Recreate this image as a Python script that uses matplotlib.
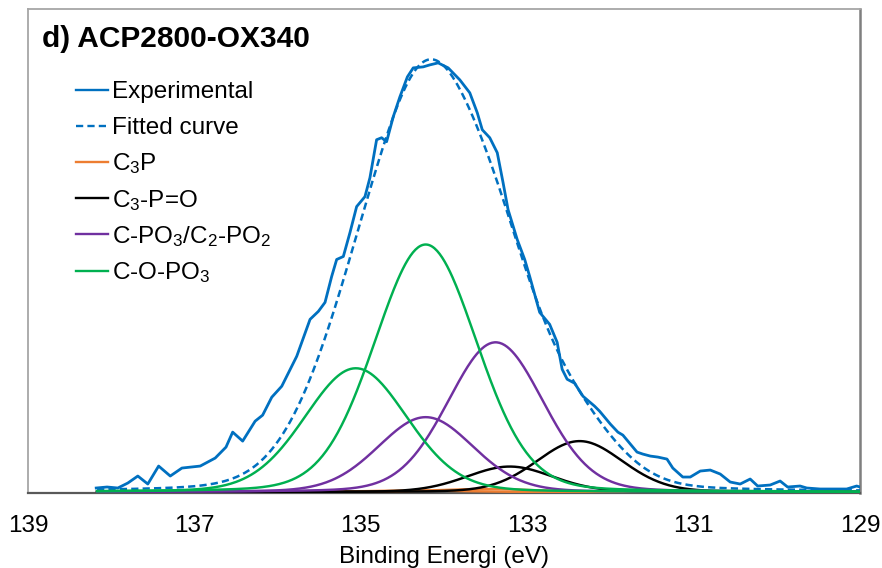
import numpy as np
import matplotlib
matplotlib.use("Agg")
import matplotlib.pyplot as plt
from matplotlib.lines import Line2D

plt.rcParams["font.family"] = ["Liberation Sans", "DejaVu Sans"]
plt.rcParams["mathtext.fontset"] = "custom"
plt.rcParams["mathtext.rm"] = "Liberation Sans"
plt.rcParams["mathtext.it"] = "Liberation Sans:italic"
plt.rcParams["mathtext.default"] = "regular"
plt.rcParams["lines.scale_dashes"] = False

# ---- P 2p spectrum, measured (binding energy in eV, intensity in a.u.) ----
exp_be = [138.18, 138.05, 137.92, 137.80, 137.68, 137.56, 137.43, 137.29, 137.15,
          136.93, 136.75, 136.62, 136.54, 136.42, 136.27, 136.18, 136.07, 135.95,
          135.77, 135.61, 135.51, 135.43, 135.35, 135.29, 135.21, 135.13, 135.05,
          134.95, 134.89, 134.81, 134.75, 134.69, 134.61, 134.53, 134.44, 134.37,
          134.25, 134.17, 134.07, 133.95, 133.81, 133.69, 133.60, 133.54, 133.45,
          133.36, 133.29, 133.23, 133.12, 133.03, 132.97, 132.85, 132.73, 132.64,
          132.58, 132.52, 132.43, 132.33, 132.19, 132.13, 132.00, 131.91, 131.85,
          131.68, 131.61, 131.52, 131.43, 131.32, 131.25, 131.13, 131.04, 130.92,
          130.80, 130.68, 130.56, 130.44, 130.32, 130.23, 130.08, 129.96, 129.87,
          129.72, 129.64, 129.48, 129.32, 129.16, 129.04, 129.00]
exp_int = [4, 5, 4, 9, 16, 8, 26, 16, 24,
           26, 34, 45, 60, 51, 71, 77, 95, 106,
           136, 173, 181, 190, 216, 233, 236, 260, 286,
           296, 315, 353, 355, 351, 376, 396, 416, 425,
           426, 428, 430, 425, 413, 400, 380, 363, 355,
           340, 310, 283, 253, 233, 216, 180, 168, 150,
           123, 113, 109, 96, 86, 81, 68, 60, 57,
           40, 38, 36, 35, 33, 24, 15, 15, 21,
           22, 18, 10, 8, 13, 6, 7, 11, 5,
           6, 4, 3, 3, 3, 6, 5]

# ---- fitted components: P 2p3/2 and P 2p1/2 peaks of each species (pseudo-Voigt) ----
comp_names = ["C$_3$P", "C$_3$-P=O", "C-PO$_3$/C$_2$-PO$_2$", "C-O-PO$_3$"]
comp_colors = ["#ED7D31", "#000000", "#7030A0", "#00B050"]
p32_center = [133.50, 132.37, 133.38, 134.22]
p12_center = [134.34, 133.21, 134.22, 135.06]
p32_height = [3.0, 51.0, 150.0, 248.0]
p12_height = [1.5, 25.5, 75.0, 124.0]
fwhm = [1.40, 1.22, 1.35, 1.45]
lorentz_frac = 0.12

be_min, be_max = 129.0, 138.17
xticks = [139, 137, 135, 133, 131, 129]

title = "d) ACP2800-OX340"
xlabel = "Binding Energi (eV)"

blue = "#0070C0"


def pseudo_voigt(x, c, h, w, m):
    g = np.exp(-4 * np.log(2) * (x - c) ** 2 / w ** 2)
    lo = 1.0 / (1.0 + 4 * (x - c) ** 2 / w ** 2)
    return h * ((1 - m) * g + m * lo)


W, H = 882, 568
fig = plt.figure(figsize=(W / 100, H / 100), dpi=100)
ax = fig.add_axes([28 / W, 1 - 493 / H, (860 - 28) / W, (493 - 9) / H])

be = np.linspace(be_max, be_min, 600)
peaks = []
for i in range(len(comp_names)):
    a = pseudo_voigt(be, p32_center[i], p32_height[i], fwhm[i], lorentz_frac)
    b = pseudo_voigt(be, p12_center[i], p12_height[i], fwhm[i], lorentz_frac)
    peaks.append((a, b))
fitted = np.sum([a + b for a, b in peaks], axis=0)

ax.plot(exp_be, exp_int, color=blue, lw=2.0, solid_joinstyle="round", zorder=3)
ax.plot(be, fitted, color=blue, lw=1.8, ls=(0, (5.2, 3.0)), zorder=3)
for i, (a, b) in enumerate(peaks):
    ax.plot(be, b, color=comp_colors[i], lw=1.75, zorder=4 + i)
    ax.plot(be, a, color=comp_colors[i], lw=1.75, zorder=4 + i)

ax.set_xlim(139, 129)
ax.set_ylim(-1, 484)
ax.set_yticks([])
ax.set_xticks(xticks)
ax.set_xticklabels([str(t) for t in xticks], fontsize=17.5)
ax.tick_params(axis="x", length=0, pad=15.5, colors="#000000")
ax.set_xlabel(xlabel, fontsize=17.5, labelpad=7)

for side in ["top", "left"]:
    ax.spines[side].set_color("#A6A6A6")
    ax.spines[side].set_linewidth(1.3)
ax.spines["right"].set_color("#7F7F7F")
ax.spines["right"].set_linewidth(1.8)
ax.spines["bottom"].set_color("#595959")
ax.spines["bottom"].set_linewidth(1.6)


def fx(px):
    return px / W


def fy(py):
    return 1 - py / H


fig.text(fx(42), fy(47), title, fontsize=21.5, fontweight="bold", va="baseline", ha="left")

# legend entries
legend_names = ["Experimental", "Fitted curve"] + comp_names
legend_colors = [blue, blue] + comp_colors
legend_styles = ["-", (0, (5.2, 3.0))] + ["-"] * len(comp_names)
for i, name in enumerate(legend_names):
    base = 98 + 36.2 * i
    ly = base - 8.5
    fig.add_artist(Line2D([fx(76), fx(108)], [fy(ly), fy(ly)], transform=fig.transFigure,
                          color=legend_colors[i], lw=1.7, ls=legend_styles[i]))
    fig.text(fx(112), fy(base), name, fontsize=17.5, va="baseline", ha="left")

fig.savefig("out.png", dpi=100)
